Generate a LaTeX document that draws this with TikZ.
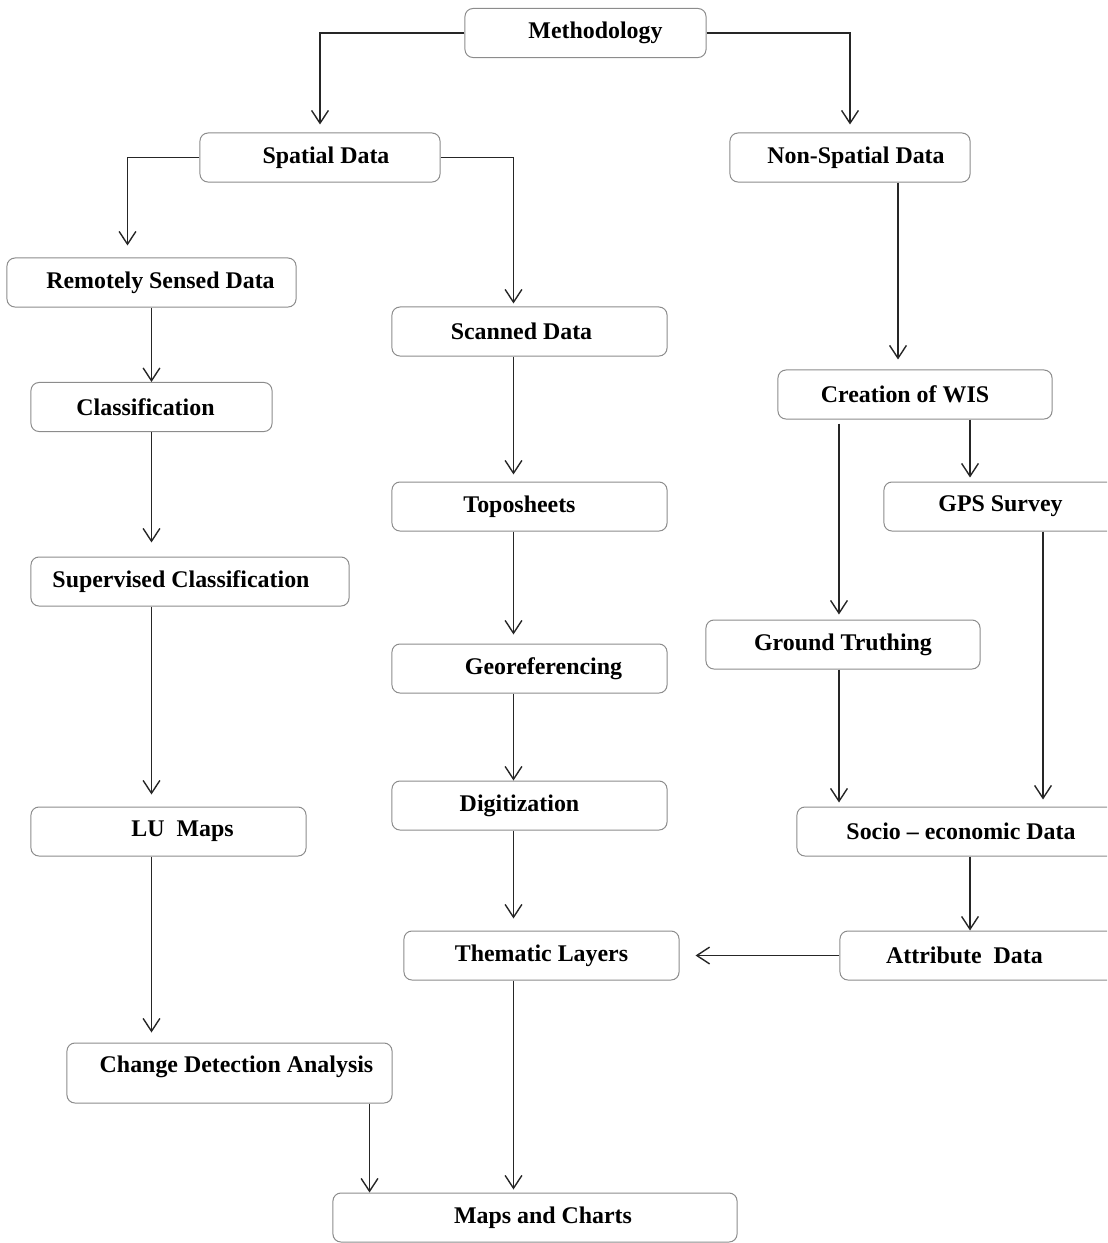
\documentclass[tikz,border=0pt]{standalone}
\usepackage{fontspec}
\setmainfont{Liberation Serif}
\usetikzlibrary{arrows.meta, positioning}

\begin{document}
\begin{tikzpicture}[
    x=0.025cm, y=-0.025cm,
    font=\fontsize{17}{20}\selectfont\bfseries,
    box/.style={draw=black!45, line width=0.25mm, rounded corners=2mm, minimum height=1.225cm,
        align=center, inner sep=2pt},
    tshift/.style={execute at begin node={\hspace*{#1}}},
    arrow/.style={-{Straight Barb[length=3.2mm, width=4.2mm]}, line width=0.35mm, draw=black!85}
]
\useasboundingbox (0,0) rectangle (1107,1243);
\clip (0,0) rectangle (1107,1243);
\node[box, tshift=0.5cm, minimum width=6.025cm] (method) at (585.5,33) {Methodology};
\node[box, tshift=0.3cm, minimum width=6cm] (spatial) at (320,157.5) {Spatial Data};
\node[box, tshift=0.3cm, minimum width=6cm] (nonspatial) at (850,157.5) {Non-Spatial Data};
\node[box, tshift=0.45cm, minimum width=7.225cm] (remote) at (151.5,282.5) {Remotely Sensed Data};
\node[box, tshift=-0.4cm, minimum width=6.875cm] (scanned) at (529.5,331.5) {Scanned Data};
\node[box, tshift=-0.3cm, minimum width=6.025cm] (classif) at (151.5,407) {Classification};
\node[box, tshift=-0.5cm, minimum width=6.85cm] (creation) at (915,394.5) {Creation of WIS};
\node[box, tshift=-0.5cm, minimum width=6.875cm] (topo) at (529.5,506.5) {Toposheets};
\node[box, tshift=-0.2cm, minimum width=6.025cm] (gps) at (1004.5,506.5) {GPS Survey};
\node[box, tshift=-0.45cm, minimum width=7.95cm] (superv) at (190,581.5) {Supervised Classification};
\node[box, minimum width=6.85cm] (ground) at (843,644.5) {Ground Truthing};
\node[box, tshift=0.7cm, minimum width=6.875cm] (georef) at (529.5,668.5) {Georeferencing};
\node[box, tshift=-0.5cm, minimum width=6.875cm] (digit) at (529.5,805.5) {Digitization};
\node[box, tshift=0.7cm, minimum width=6.875cm] (lumaps) at (168.5,831.5) {LU\ \ Maps};
\node[box, minimum width=8.2cm] (socio) at (961,831.5) {Socio -- economic Data};
\node[box, minimum width=6.875cm] (thematic) at (541.5,955.5) {Thematic Layers};
\node[box, tshift=-0.9cm, minimum width=7.125cm] (attrib) at (982.5,955.5) {Attribute\ \ Data};
\node[box, tshift=0.35cm, minimum width=8.125cm, minimum height=1.5cm, text depth=0.43cm] (change) at (229.5,1073) {Change Detection Analysis};
\node[box, tshift=0.4cm, minimum width=10.1cm] (maps) at (535,1217.5) {Maps and Charts};
\draw[arrow, shorten >=2mm] (method.west) -| (spatial.north);
\draw[arrow, shorten >=2mm] (method.east) -| (nonspatial.north);
\draw[arrow, shorten >=3mm] (spatial.west) -| ([xshift=-0.6cm]remote.north);
\draw[arrow, shorten >=0.75mm] (spatial.east) -| ([xshift=-0.4cm]scanned.north);
\draw[arrow, shorten >=2.5mm] ([xshift=1.2cm]nonspatial.south) -- ([xshift=1.2cm]nonspatial.south |- creation.north);
\draw[arrow] (remote.south) -- (classif.north);
\draw[arrow, shorten >=3.5mm] (classif.south) -- (classif.south |- superv.north);
\draw[arrow, shorten >=3mm] (superv.south -| classif.south) -- (lumaps.north -| classif.south);
\draw[arrow, shorten >=2.5mm] (lumaps.south -| classif.south) -- (change.north -| classif.south);
\draw[arrow] ([xshift=3.5cm]change.south) -- ([xshift=3.5cm]change.south |- maps.north);
\draw[arrow, shorten >=1.75mm] ([xshift=-0.4cm]scanned.south) -- ([xshift=-0.4cm]topo.north);
\draw[arrow, shorten >=2.25mm] ([xshift=-0.4cm]topo.south) -- ([xshift=-0.4cm]georef.north);
\draw[arrow] ([xshift=-0.4cm]georef.south) -- ([xshift=-0.4cm]digit.north);
\draw[arrow, shorten >=3mm] ([xshift=-0.4cm]digit.south) -- ([xshift=-0.4cm]digit.south |- thematic.north);
\draw[arrow, shorten >=0.75mm] ([xshift=-0.7cm]thematic.south) -- ([xshift=-0.7cm]thematic.south |- maps.north);
\draw[arrow, shorten <=1mm, shorten >=1.25mm] ([xshift=-1.9cm]creation.south) -- ([xshift=-1.9cm]creation.south |- ground.north);
\draw[arrow, shorten >=1mm] ([xshift=1.375cm]creation.south) -- ([xshift=1.375cm]creation.south |- gps.north);
\draw[arrow, shorten >=1.75mm] ([xshift=0.9625cm]gps.south) -- ([xshift=0.9625cm]gps.south |- socio.north);
\draw[arrow, shorten >=1mm] ([xshift=-0.1cm]ground.south) -- ([xshift=-0.1cm]ground.south |- socio.north);
\draw[arrow] ([xshift=0.225cm]socio.south) -- ([xshift=0.225cm]socio.south |- attrib.north);
\draw[arrow, shorten >=4mm] (attrib.west) -- (attrib.west -| thematic.east);
\end{tikzpicture}
\end{document}
